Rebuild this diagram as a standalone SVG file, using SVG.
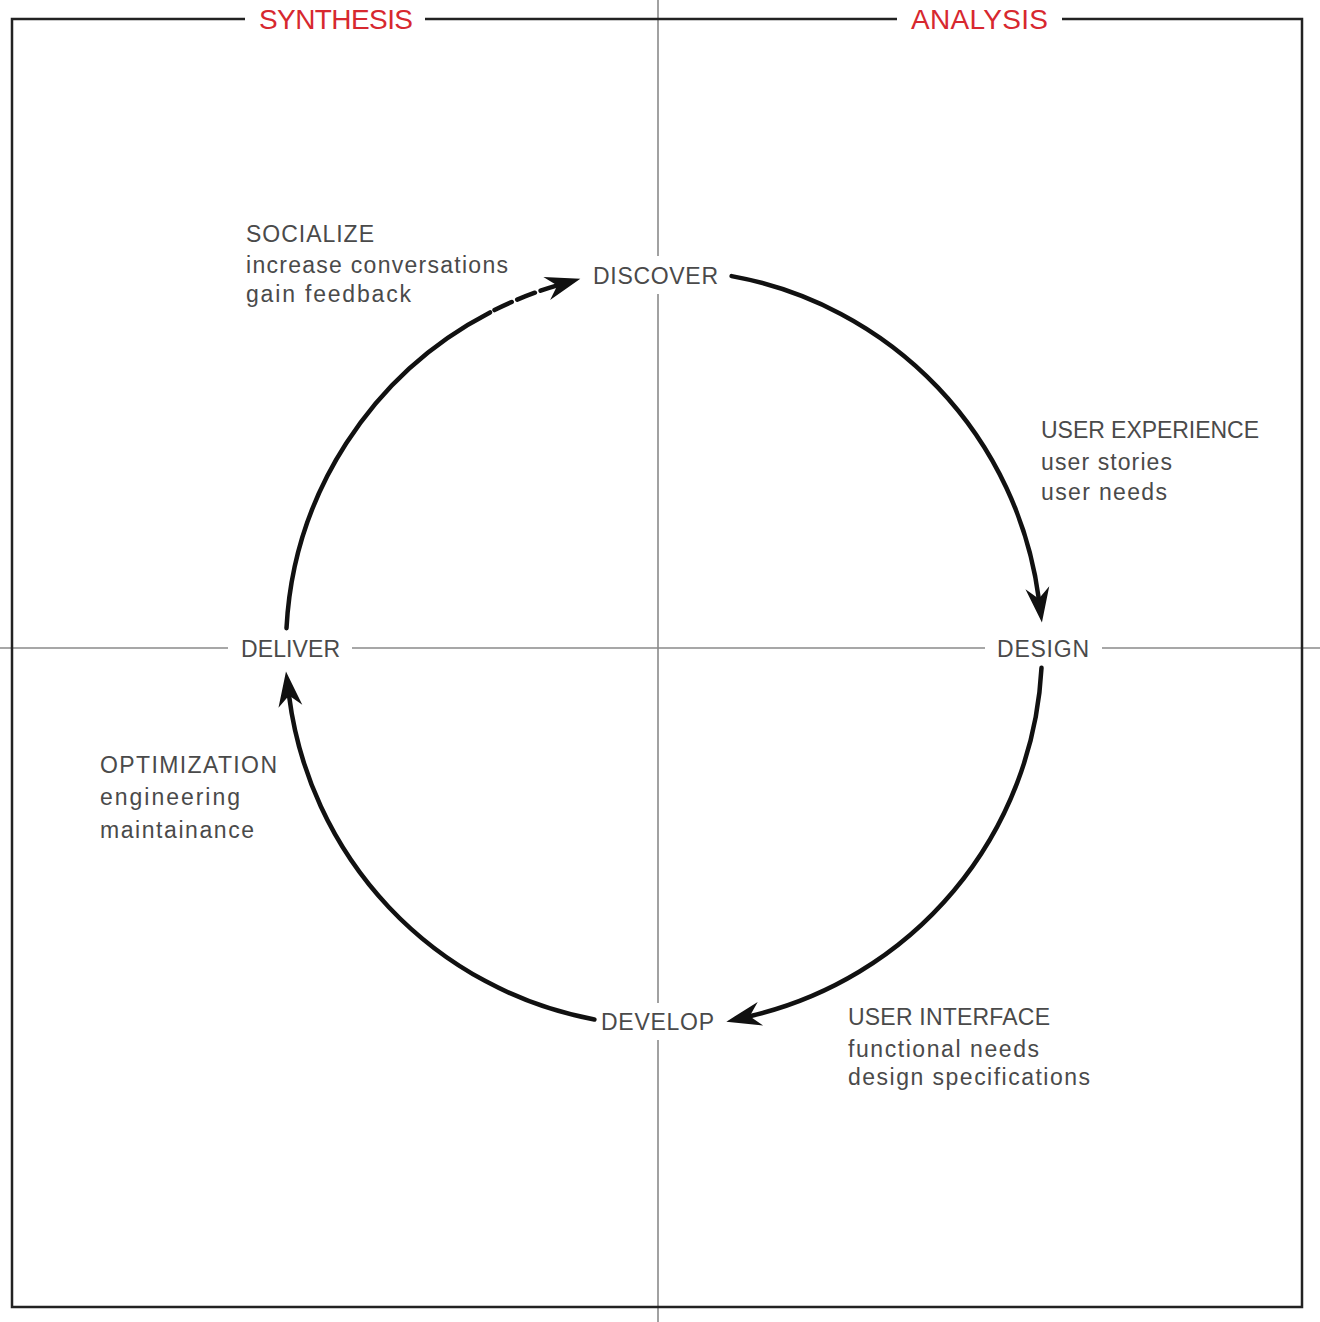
<svg xmlns="http://www.w3.org/2000/svg" width="1320" height="1322" viewBox="0 0 1320 1322">
<defs>
<style>
.frame{stroke:#222;stroke-width:2.5;fill:none}
.axis{stroke:#8a8a8a;stroke-width:1.6;fill:none}
.hdr{font-family:"Liberation Sans",Arial,sans-serif;font-size:28px;fill:#d7282f}
.node{font-family:"Liberation Sans",Arial,sans-serif;font-size:23px;fill:#4a4a4a}
.note{font-family:"Liberation Sans",Arial,sans-serif;font-size:23px;fill:#4a4a4a}
.arc{stroke:#111;stroke-width:4.5;fill:none;stroke-linecap:round}
</style>
<marker id="ah" markerUnits="userSpaceOnUse" viewBox="-36 -13 38 26" markerWidth="38" markerHeight="26" refX="-24" refY="0" orient="auto">
<path d="M0,0 L-35,-12 L-24,0 L-35,12 Z" fill="#111"/>
</marker>
</defs>
<rect width="1320" height="1322" fill="#fff"/>
<g id="axes">
<line class="axis" x1="658" y1="0" x2="658" y2="256"/>
<line class="axis" x1="658" y1="294" x2="658" y2="1003"/>
<line class="axis" x1="658" y1="1040" x2="658" y2="1322"/>
<line class="axis" x1="0" y1="648" x2="228" y2="648"/>
<line class="axis" x1="352" y1="648" x2="985" y2="648"/>
<line class="axis" x1="1102" y1="648" x2="1320" y2="648"/>
</g>
<g id="frame">
<polyline class="frame" points="245,19 12,19 12,1307 1302,1307 1302,19 1062,19"/>
<line class="frame" x1="425" y1="19" x2="897" y2="19"/>
<text class="hdr" x="259" y="29" textLength="154" lengthAdjust="spacing">SYNTHESIS</text>
<text class="hdr" x="911" y="29" textLength="137" lengthAdjust="spacing">ANALYSIS</text>
</g>
<g id="connectors">
<path class="arc" d="M731.6,276.1 A378,378 0 0 1 1038.8,598.7" marker-end="url(#ah)"/>
<path class="arc" d="M1041.5,667.8 A378,378 0 0 1 749.7,1016.2" marker-end="url(#ah)"/>
<path class="arc" d="M594.4,1019.5 A378,378 0 0 1 289.0,695.4" marker-end="url(#ah)"/>
<path class="arc" d="M286.5,628.2 A378,378 0 0 1 490.0,312.4"/>
<path class="arc" d="M494.5,310.1 A378,378 0 0 1 557.3,285.4" stroke-dasharray="19 6" stroke-linecap="butt" marker-end="url(#ah)"/>
</g>
<g id="node-discover"><text class="node" x="593" y="284" textLength="125" lengthAdjust="spacing">DISCOVER</text></g>
<g id="node-design"><text class="node" x="997" y="657" textLength="92" lengthAdjust="spacing">DESIGN</text></g>
<g id="node-develop"><text class="node" x="601" y="1030" textLength="113" lengthAdjust="spacing">DEVELOP</text></g>
<g id="node-deliver"><text class="node" x="241" y="657" textLength="99" lengthAdjust="spacing">DELIVER</text></g>
<g id="note-socialize">
<text class="note" x="246" y="242" textLength="128" lengthAdjust="spacing">SOCIALIZE</text>
<text class="note" x="246" y="273" textLength="262" lengthAdjust="spacing">increase conversations</text>
<text class="note" x="246" y="302" textLength="165" lengthAdjust="spacing">gain feedback</text>
</g>
<g id="note-ux">
<text class="note" x="1041" y="438" textLength="218" lengthAdjust="spacing">USER EXPERIENCE</text>
<text class="note" x="1041" y="470" textLength="131" lengthAdjust="spacing">user stories</text>
<text class="note" x="1041" y="500" textLength="126" lengthAdjust="spacing">user needs</text>
</g>
<g id="note-ui">
<text class="note" x="848" y="1025" textLength="202" lengthAdjust="spacing">USER INTERFACE</text>
<text class="note" x="848" y="1057" textLength="191" lengthAdjust="spacing">functional needs</text>
<text class="note" x="848" y="1085" textLength="242" lengthAdjust="spacing">design specifications</text>
</g>
<g id="note-optimization">
<text class="note" x="100" y="773" textLength="177" lengthAdjust="spacing">OPTIMIZATION</text>
<text class="note" x="100" y="805" textLength="140" lengthAdjust="spacing">engineering</text>
<text class="note" x="100" y="838" textLength="154" lengthAdjust="spacing">maintainance</text>
</g>
</svg>
